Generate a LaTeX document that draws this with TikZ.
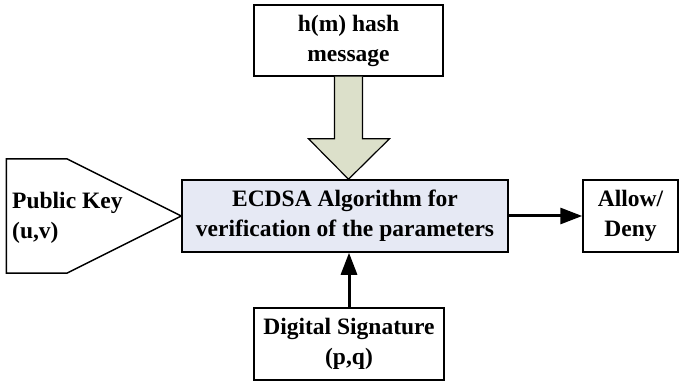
\documentclass[tikz,border=0pt]{standalone}
\usepackage{fontspec}
\setmainfont{Liberation Serif}
\usetikzlibrary{arrows.meta,calc}

\definecolor{algofill}{HTML}{E6E9F4}
\definecolor{hashfill}{HTML}{DCE0CA}

\begin{document}
\begin{tikzpicture}[
  x=1pt, y=-1pt,
  font=\fontsize{23.5}{30}\selectfont\bfseries,
  box/.style={draw, line width=1.5pt, align=center, inner sep=0pt},
  flow/.style={line width=3pt, -{Triangle[length=22pt,width=16pt]}},
]
\useasboundingbox (0,0) rectangle (680,382);

\node [box, minimum width=189pt, minimum height=71pt] (hash) at (348.5,40.5) {h(m) hash\\message};
\node [box, fill=algofill, minimum width=326pt, minimum height=72pt] (algo) at (345,216) {ECDSA Algorithm for\\verification of the parameters};
\node [box, minimum width=95pt, minimum height=72pt] (allow) at (630.5,216) {Allow/\\Deny};
\node [box, minimum width=190pt, minimum height=72pt] (sig) at (349,344) {Digital Signature\\(p,q)};

% public key tag, its point resting on the algorithm box
\draw [line width=1.5pt] (algo.west) -- ++(-114,-57) -- ++(-61,0) -- ++(0,114) -- ++(61,0) -- cycle;
\node [anchor=west, align=left, inner sep=0pt] (pubkey) at (12,218) {Public Key\\(u,v)};

% fat arrow from the hash
\draw [line width=1.2pt, fill=hashfill]
  ($(hash.south)+(-14,0)$) -- ++(0,62) -- ++(-26,0) -- (hash.south |- algo.north)
  -- ($(hash.south)+(41,62)$) -- ++(-27,0) -- ($(hash.south)+(14,0)$);

\draw [flow] (algo) -- (allow);
\draw [flow] (sig.north) -- (sig.north |- algo.south);

\end{tikzpicture}
\end{document}
